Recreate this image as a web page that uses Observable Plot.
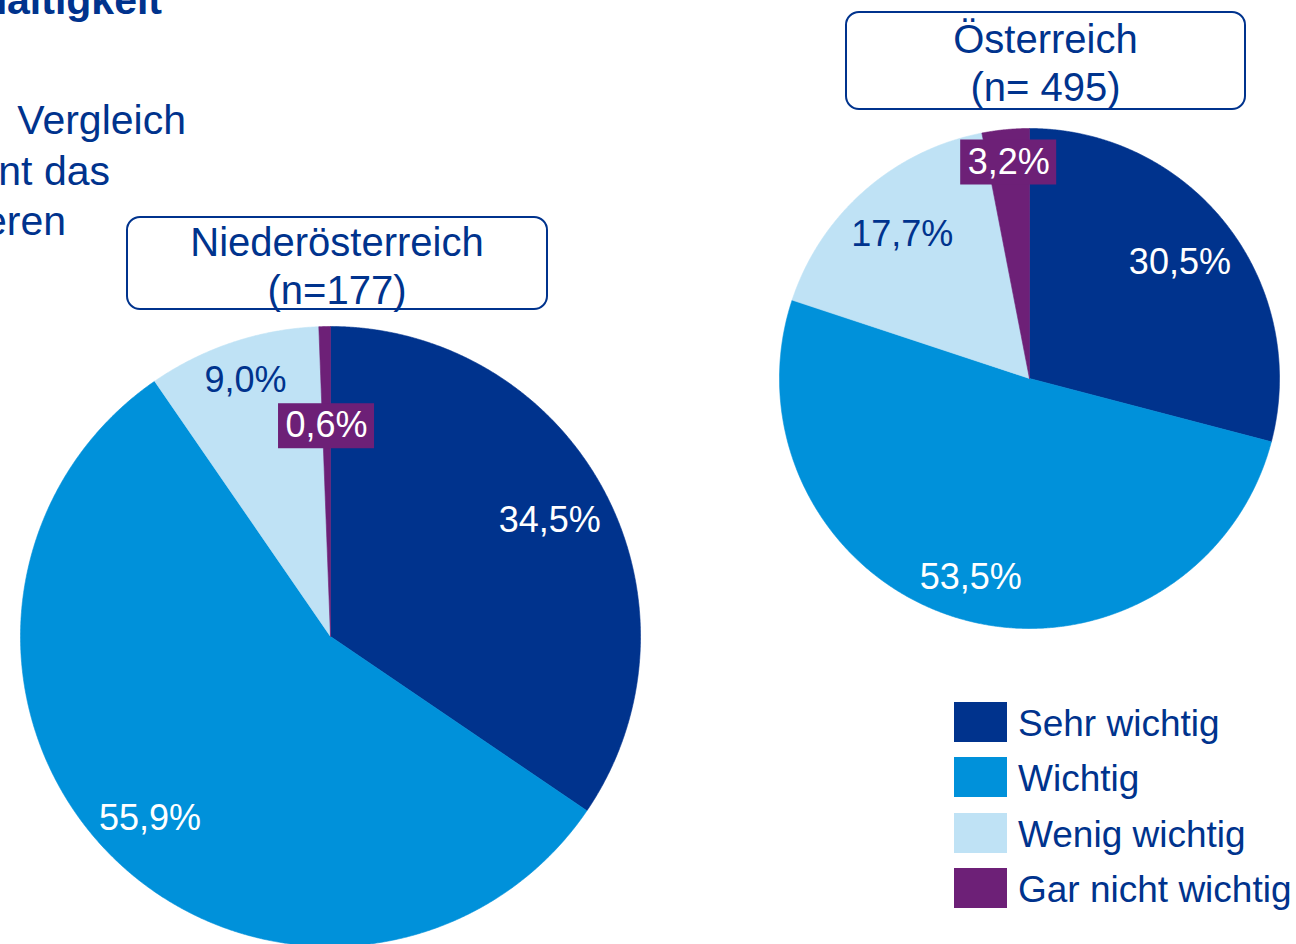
<!DOCTYPE html>
<html>
<head>
<meta charset="utf-8">
<script src="https://cdn.jsdelivr.net/npm/d3@7"></script>
<script src="https://cdn.jsdelivr.net/npm/@observablehq/plot@0.6"></script>
<style>
  html, body { margin: 0; padding: 0; background: #fff; }
  #wrap { position: relative; width: 1296px; height: 944px; overflow: hidden;
          font-family: "Liberation Sans", Arial, sans-serif; color: #00338D; }
  #wrap svg { position: absolute; left: 0; top: 0; }
  .box { position: absolute; box-sizing: border-box; border: 2px solid #00338D; border-radius: 14px;
         background: #fff; text-align: center; font-size: 40px; line-height: 48px; }
  .para { position: absolute; white-space: nowrap; font-size: 41px; line-height: 40px; text-align: right; }
  .sw { position: absolute; width: 53px; height: 40px; }
  .lg { position: absolute; font-size: 37px; line-height: 40px; white-space: nowrap; }
</style>
</head>
<body>
<div id="wrap"></div>
<script>
// ---- data ----
const categories = ["Sehr wichtig", "Wichtig", "Wenig wichtig", "Gar nicht wichtig"];
const noeValues = [34.5, 55.9, 9.0, 0.6];   // Niederösterreich
const atValues  = [30.5, 53.5, 17.7, 3.2];  // Österreich
const pieNames  = ["Niederösterreich", "Österreich"];
const pieN      = ["(n=177)", "(n= 495)"];
const colors    = ["#00338D", "#0091DA", "#BFE2F5", "#6D2077"];

// ---- layout (pixels) ----
const W = 1296, H = 944;
const pies = [
  {name: pieNames[0], values: noeValues, cx: 330, cy: 636, r: 310, labelR: [0.80, 0.826, 0.87, 0.68]},
  {name: pieNames[1], values: atValues,  cx: 1029, cy: 378, r: 250, labelR: [0.76, 0.83, 0.77, 0.87]}
];
const fmt = v => v.toFixed(1).replace(".", ",") + "%";

const polys = [];
const labels = [];
for (const p of pies) {
  const rows = categories.map((c, i) => ({category: c, value: p.values[i], i}));
  const arcs = d3.pie().sort(null).value(d => d.value).startAngle(0).endAngle(2 * Math.PI)(rows);
  for (const a of arcs) {
    const key = p.name + "|" + a.data.category;
    const pt = ang => ({x: p.cx + p.r * Math.sin(ang), y: p.cy - p.r * Math.cos(ang)});
    polys.push({key, category: a.data.category, x: p.cx, y: p.cy});
    const n = Math.max(2, Math.ceil((a.endAngle - a.startAngle) / (Math.PI / 720)));
    for (let k = 0; k <= n; k++) {
      const ang = a.startAngle + (a.endAngle - a.startAngle) * k / n;
      polys.push({key, category: a.data.category, ...pt(ang)});
    }
    polys.push({key, category: a.data.category, x: p.cx, y: p.cy});
    const mid = (a.startAngle + a.endAngle) / 2;
    const lr = p.r * p.labelR[a.data.i];
    labels.push({
      x: p.cx + lr * Math.sin(mid), y: p.cy - lr * Math.cos(mid),
      text: fmt(a.data.value), category: a.data.category, i: a.data.i
    });
  }
}

const ff = '"Liberation Sans", Arial, sans-serif';
const chart = Plot.plot({
  width: W, height: H,
  margin: 0,
  x: {domain: [0, W], axis: null},
  y: {domain: [H, 0], axis: null},
  color: {domain: categories, range: colors},
  style: {background: "transparent", fontFamily: ff},
  marks: [
    Plot.line(polys, {x: "x", y: "y", z: "key", fill: "category", stroke: "category", strokeWidth: 0.6, curve: "linear"}),
    Plot.rect(labels.filter(d => d.i === 3), {x1: d => d.x - 48, x2: d => d.x + 48, y1: d => d.y - 22, y2: d => d.y + 23, fill: "category"}),
    Plot.text(labels.filter(d => d.i !== 2), {x: "x", y: "y", text: "text", fill: "white", fontSize: 36, fontFamily: ff}),
    Plot.text(labels.filter(d => d.i === 2), {x: "x", y: "y", text: "text", fill: "#00338D", fontSize: 36, fontFamily: ff})
  ]
});

const wrap = document.getElementById("wrap");
wrap.appendChild(chart);

// partial slide text on the left (cropped in the reference)
const paras = [
  {t: "Nachhaltigkeit", right: 162, top: -20, bold: true},
  {t: "Vergleich", right: 186, top: 100},
  {t: "nt das", right: 110, top: 151},
  {t: "eren", right: 66, top: 201}
];
for (const p of paras) {
  const d = document.createElement("div");
  d.className = "para";
  d.style.right = (W - p.right) + "px";
  d.style.top = p.top + "px";
  if (p.bold) d.style.fontWeight = "bold";
  d.textContent = p.t;
  wrap.appendChild(d);
}

// title boxes
const boxes = [
  {left: 126, top: 216, width: 422, height: 94, pad: 0, lines: [pieNames[0], pieN[0]]},
  {left: 845, top: 11, width: 401, height: 99, pad: 2, lines: [pieNames[1], pieN[1]]}
];
for (const b of boxes) {
  const d = document.createElement("div");
  d.className = "box";
  Object.assign(d.style, {left: b.left + "px", top: b.top + "px", width: b.width + "px", height: b.height + "px", paddingTop: b.pad + "px"});
  d.innerHTML = b.lines.map(l => `<div>${l}</div>`).join("");
  wrap.appendChild(d);
}

// legend
const color = chart.scale("color");
categories.forEach((c, i) => {
  const top = 702 + i * 55.3;
  const s = document.createElement("div");
  s.className = "sw";
  Object.assign(s.style, {left: "954px", top: top + "px", background: color.apply(c)});
  wrap.appendChild(s);
  const t = document.createElement("div");
  t.className = "lg";
  Object.assign(t.style, {left: "1018px", top: (top + 2) + "px"});
  t.textContent = c;
  wrap.appendChild(t);
});
</script>
</body>
</html>
